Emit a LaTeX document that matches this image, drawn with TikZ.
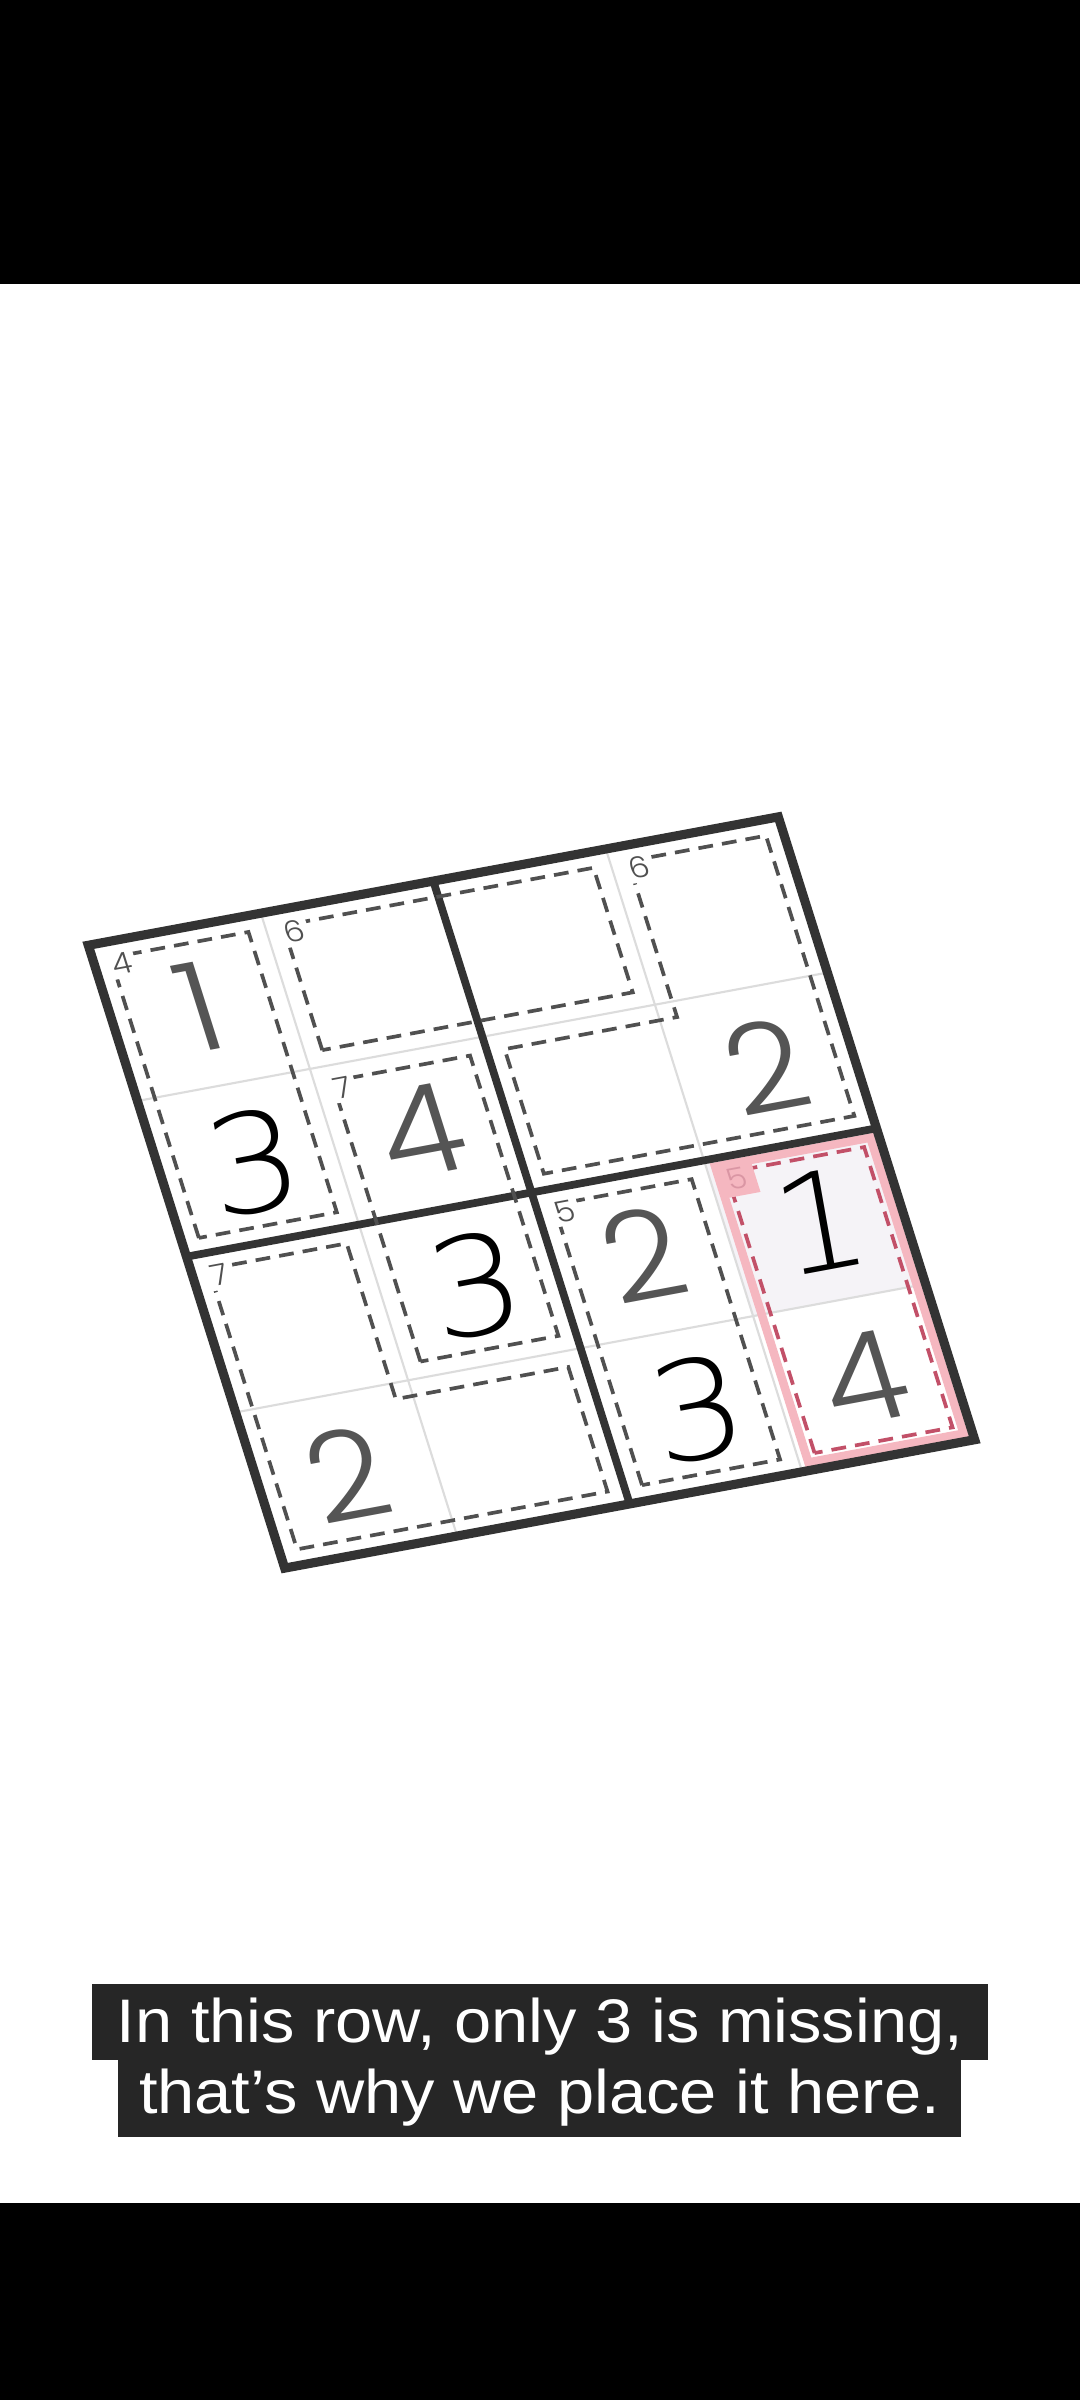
\documentclass[tikz,border=0pt]{standalone}
\usepackage{fontspec}
\usepackage{xcolor}
\usepackage{tikz}
\newfontfamily\givenFont{Poppins Light}
\newfontfamily\pencilFont{DejaVu Sans ExtraLight}[FakeSlant=0.12]
\newfontfamily\captionFont{Liberation Sans}[FakeStretch=1.086]
\definecolor{gridColor}{HTML}{333333}
\definecolor{thinColor}{HTML}{DCDCDC}
\definecolor{cageColor}{HTML}{505050}
\definecolor{givenColor}{HTML}{555555}
\definecolor{markColor}{HTML}{F5B7C0}
\definecolor{markDashColor}{HTML}{C25068}
\definecolor{selectColor}{HTML}{F5F3F7}
\definecolor{captionBg}{HTML}{262626}

\begin{document}
\begin{tikzpicture}[
    given/.style={transform shape, inner sep=0pt, text=givenColor, font=\givenFont\fontsize{22pt}{22pt}\selectfont},
    pencil/.style={transform shape, inner sep=0pt, text=black, font=\pencilFont\fontsize{24pt}{24pt}\selectfont},
    sumlabel/.style={transform shape, fill=white, inner sep=0.7pt, text=cageColor, font=\givenFont\fontsize{5.2pt}{5.5pt}\selectfont},
    cage/.style={cageColor, line width=1.05pt, dash pattern=on 4.2pt off 2.6pt},
    captionline/.style={fill=captionBg, text=white, inner sep=0pt, font=\captionFont\fontsize{17.5pt}{21pt}\selectfont}
]
    \useasboundingbox (0,0) rectangle (10.8,-24);
    \fill[white] (0,0) rectangle (10.8,-24);
    \fill[black] (0,0) rectangle (10.8,-2.84);
    \fill[black] (0,-22.03) rectangle (10.8,-24);

    \begin{scope}[cm={1.725,0.321,-0.491,1.557,(2.847,-15.681)}]
        \fill[white] (0,0) rectangle (4,4);
        \fill[selectColor] (3,1) rectangle (4,2);
        \draw[thinColor, line width=0.6pt] (1,0) -- (1,4) (3,0) -- (3,4) (0,1) -- (4,1) (0,3) -- (4,3);
        \draw[markColor, line width=2.4pt] (3.05,0.05) rectangle (3.95,1.95);
        \draw[gridColor, line width=2.2pt] (2,0) -- (2,4) (0,2) -- (4,2);
        \draw[gridColor, line width=2.6pt] (0,0) rectangle (4,4);

        \draw[cage] (0.1,2.1) rectangle (0.9,3.9);
        \draw[cage] (1.1,3.1) rectangle (2.9,3.9);
        \draw[cage] (1.1,1.1) rectangle (1.9,2.9);
        \draw[cage] (3.1,3.9) -- (3.9,3.9) -- (3.9,2.1) -- (2.1,2.1) -- (2.1,2.9) -- (3.1,2.9) -- cycle;
        \draw[cage] (0.1,1.9) -- (0.9,1.9) -- (0.9,0.9) -- (1.9,0.9) -- (1.9,0.1) -- (0.1,0.1) -- cycle;
        \draw[cage] (2.1,0.1) rectangle (2.9,1.9);
        \draw[cage, markDashColor] (3.1,0.1) rectangle (3.9,1.9);

        \node[sumlabel] (sumA) at (0.15,3.85) {4};
        \node[sumlabel] (sumB) at (1.15,3.85) {6};
        \node[sumlabel] (sumC) at (1.15,2.85) {7};
        \node[sumlabel] (sumD) at (3.15,3.85) {6};
        \node[sumlabel] (sumE) at (0.15,1.85) {7};
        \node[sumlabel] (sumF) at (2.15,1.85) {5};
        \node[sumlabel, fill=markColor, text=markDashColor!60, minimum size=0.21cm] (sumG) at (3.15,1.85) {5};

        \node[given] (cellA1) at (0.5,3.5) {1};
        \node[pencil] (cellB1) at (0.5,2.5) {3};
        \node[given] (cellB2) at (1.5,2.5) {4};
        \node[given] (cellB4) at (3.5,2.5) {2};
        \node[pencil] (cellC2) at (1.5,1.5) {3};
        \node[given] (cellC3) at (2.5,1.5) {2};
        \node[pencil] (cellC4) at (3.5,1.5) {1};
        \node[given] (cellD1) at (0.5,0.5) {2};
        \node[pencil] (cellD3) at (2.5,0.5) {3};
        \node[given] (cellD4) at (3.5,0.5) {4};
    \end{scope}

    \node[captionline, minimum width=8.96cm, minimum height=0.76cm, text height=0.5cm, text depth=0.1cm] (capTop) at (5.40,-20.22) {In this row, only 3 is missing,};
    \node[captionline, minimum width=8.43cm, minimum height=0.77cm, text height=0.44cm, text depth=0.15cm] (capBottom) at (5.395,-20.985) {that’s why we place it here.};
\end{tikzpicture}
\end{document}
